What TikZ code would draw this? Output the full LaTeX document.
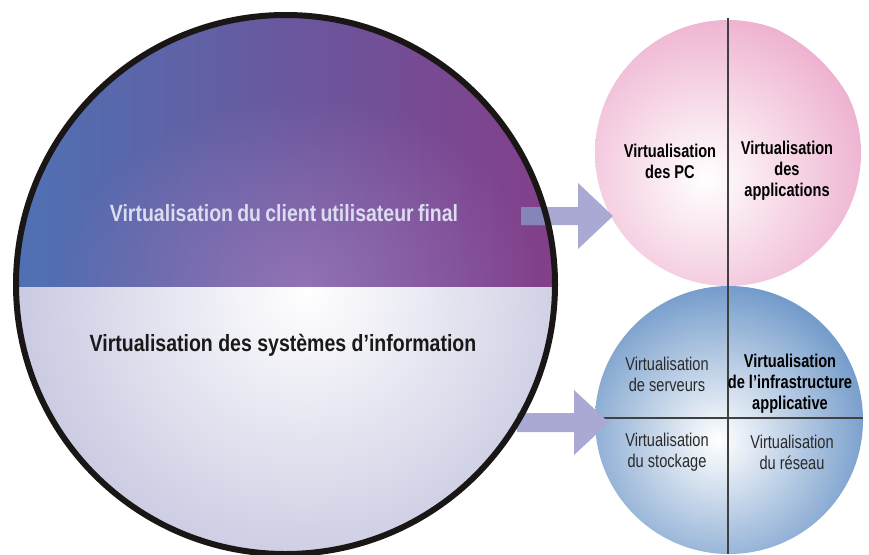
\documentclass[tikz,border=0pt]{standalone}
\usepackage{fontspec}
\setmainfont{Liberation Sans}[FakeStretch=0.83]
\newfontfamily\cellfont{Liberation Sans}[FakeStretch=0.79]
\usetikzlibrary{fadings}
\definecolor{bigL}{HTML}{4E72B4}
\definecolor{bigR}{HTML}{843E89}
\definecolor{hl}{HTML}{B88ECA}
\definecolor{lav}{HTML}{C4C4DF}
\definecolor{pinkedge}{HTML}{EEB2D0}
\definecolor{blueedge}{HTML}{6893C6}
\definecolor{arrowc}{HTML}{A9A9D4}
\definecolor{arrowdark}{HTML}{8585B9}
\definecolor{toptxt}{HTML}{DCDCF0}
\definecolor{txtgray}{HTML}{2A2A2A}
\definecolor{rim}{HTML}{1A1616}
\tikzfading[name=myglow, inner color=transparent!0, outer color=transparent!100]
\tikzset{
  bigtxt/.style={font=\fontsize{23.5}{28}\selectfont\bfseries, inner sep=0pt},
  celltxt/.style={font=\cellfont\fontsize{18.5}{21}\selectfont, align=center, text=txtgray, inner sep=0pt},
  cellbold/.style={font=\cellfont\fontsize{18.5}{21}\selectfont\bfseries, align=center, text=black, inner sep=0pt},
  divider/.style={draw=black!75, line width=1.2pt},
  blockarrow/.style={fill=arrowc, draw=none}
}
\begin{document}
\begin{tikzpicture}[x=1pt,y=-1pt]
\useasboundingbox (0,0) rectangle (869,554);
\fill[white] (0,0) rectangle (869,554);

% centres
\coordinate (bc) at (285.5,284.5);
\coordinate (pc) at (728,153);
\coordinate (qc) at (729,420);

% ---- big circle ----
\begin{scope}
  \clip (bc) circle[radius=269.5pt];
  \shade[left color=bigL, right color=bigR] (10,10) rectangle (560,287);
  \begin{scope}
    \clip (10,10) rectangle (560,287);
    \fill[hl, fill opacity=0.5, path fading=myglow] (300,285) ellipse[x radius=240pt, y radius=190pt];
  \end{scope}
  \begin{scope}
    \clip (10,287) rectangle (560,560);
    \shade[inner color=white, outer color=lav] (305,290) circle[radius=320pt];
  \end{scope}
\end{scope}

% ---- pink circle ----
\begin{scope}
  \clip (pc) circle[radius=133pt];
  \shade[inner color=white, outer color=pinkedge] (705,178) circle[radius=165pt];
\end{scope}

% ---- blue circle ----
\begin{scope}
  \clip (qc) circle[radius=134pt];
  \shade[inner color=white, outer color=blueedge] (718,440) circle[radius=168pt];
\end{scope}

% ---- dividers ----
\coordinate (vtop) at (728,18);
\coordinate (vbot) at (728,554);
\coordinate (hl1) at (595,418);
\coordinate (hr1) at (863,418);
\draw[divider] (vtop) -- (vbot);
\draw[divider] (hl1) -- (hr1);

% ---- block arrows ----
\fill[blockarrow] (521,207) -- (578,207) -- (578,183) -- (613,216) -- (578,249) -- (578,225) -- (521,225) -- cycle;
\begin{scope}
  \clip (bc) circle[radius=269.5pt];
  \fill[arrowdark] (521,207) rectangle (578,225);
\end{scope}
\fill[blockarrow] (517,413) -- (574,413) -- (574,390) -- (609,422.5) -- (574,455) -- (574,432) -- (517,432) -- cycle;

% rim of big circle
\draw[rim, line width=6pt] (bc) circle[radius=269.5pt];

% ---- texts ----
\node[bigtxt, text=toptxt] (client) at (284,213) {Virtualisation\hspace{0.18em}du\hspace{0.18em}client\hspace{0.18em}utilisateur\hspace{0.18em}final};
\node[bigtxt, text=black!90] (si) at (283,345) {Virtualisation des systèmes d’information};

\node[cellbold] (pcv) at (670,161) {Virtualisation\\des PC};
\node[cellbold] (app) at (787,171) {Virtualisation\\des\\applications};

\node[celltxt] (srv) at (667,374) {Virtualisation\\de serveurs};
\node[cellbold] (infra) at (790,384) {Virtualisation\\de l’infrastructure\\applicative};
\node[celltxt] (stock) at (667,452) {Virtualisation\\du stockage};
\node[celltxt] (net) at (792,452) {Virtualisation\\du réseau};
\end{tikzpicture}
\end{document}
